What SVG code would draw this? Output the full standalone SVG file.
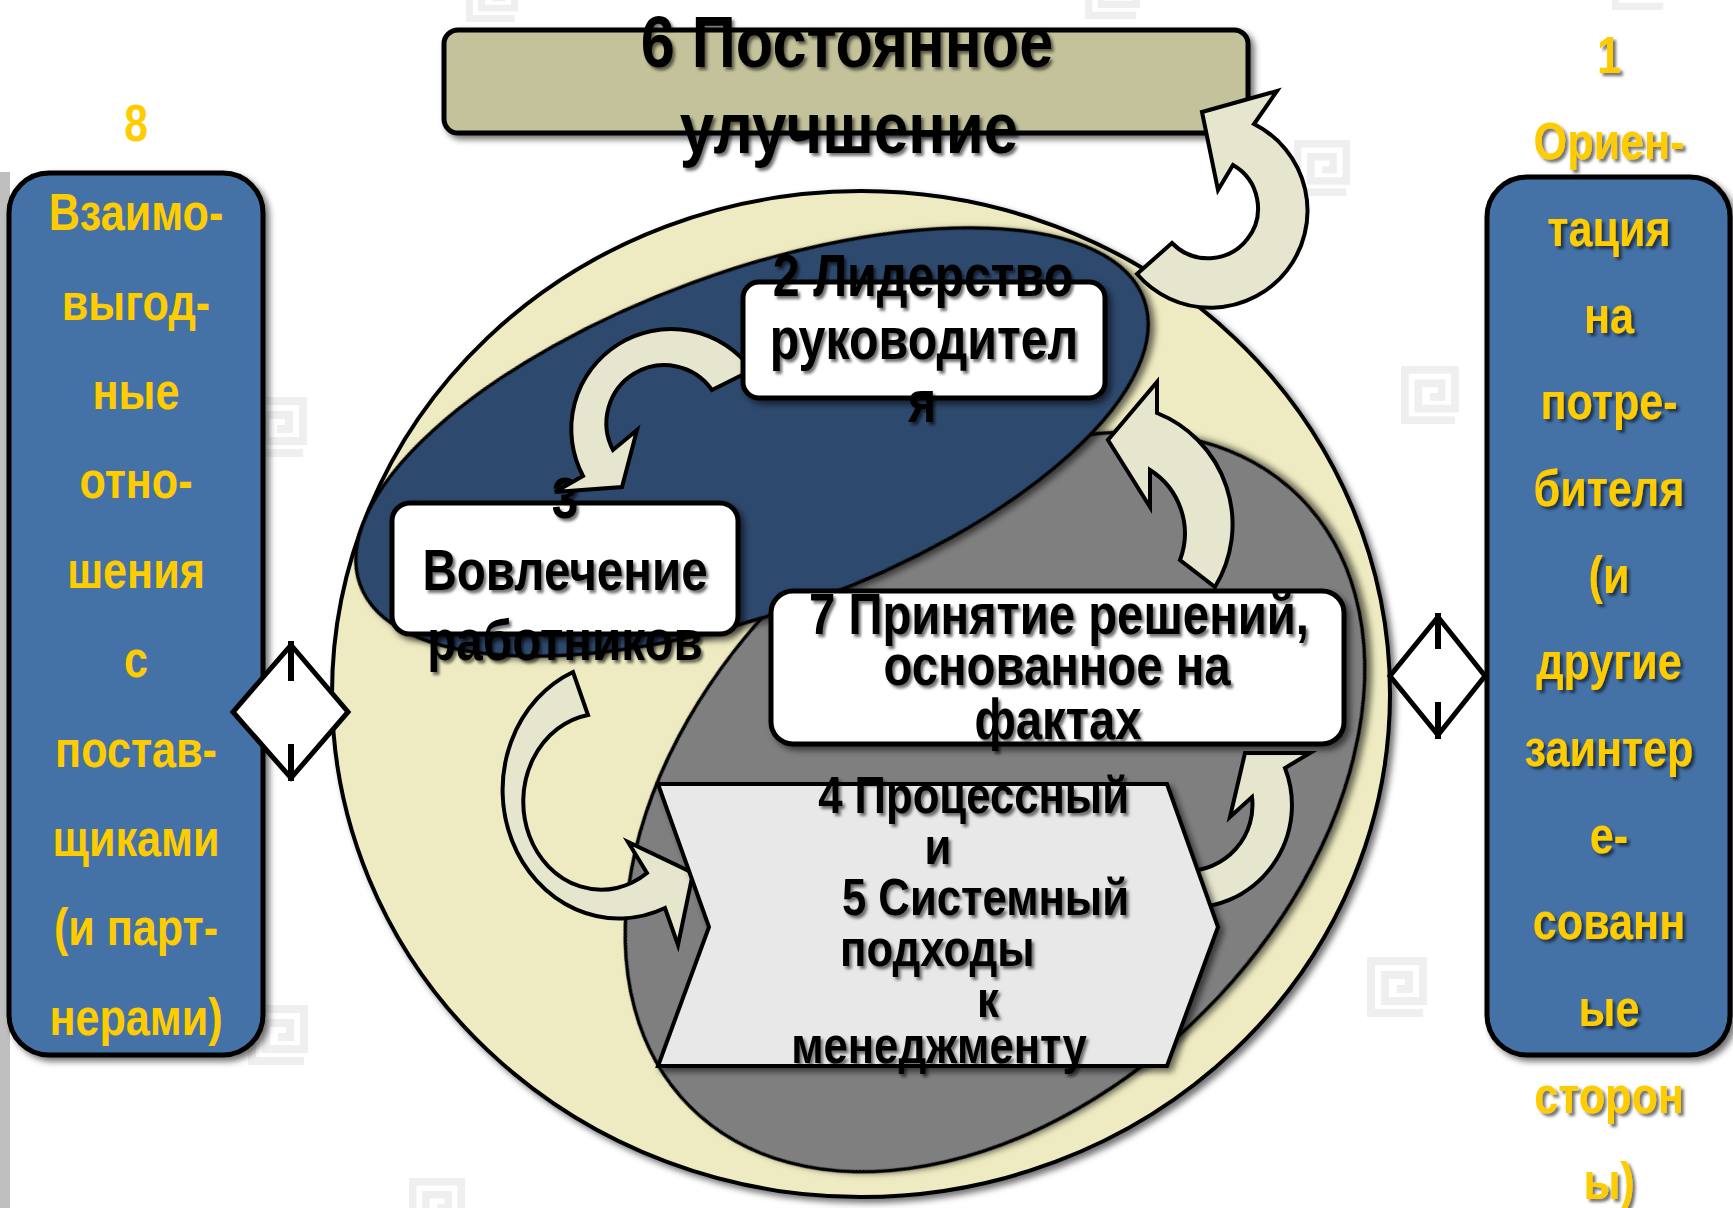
<svg xmlns="http://www.w3.org/2000/svg" width="1733" height="1208" viewBox="0 0 1733 1208">
<defs>
<filter id="sh" x="-10%" y="-10%" width="130%" height="130%"><feDropShadow dx="4" dy="4" stdDeviation="3" flood-color="#000" flood-opacity="0.55"/></filter>
<filter id="ts" x="-10%" y="-30%" width="130%" height="170%"><feDropShadow dx="3" dy="3" stdDeviation="1.6" flood-color="#000" flood-opacity="0.55"/></filter>
<symbol id="gk" viewBox="0 0 60 60"><path d="M56,56 H4 V4 H56 V44 H18 V18 H42 V32 H30" fill="none" stroke="#efefef" stroke-width="8"/></symbol>
</defs>
<style>
.t{font-family:"Liberation Sans",Arial,sans-serif;font-weight:bold;}
.bk{fill:#000;filter:url(#ts)}
.yl{fill:#FFCC00;font-size:52px}
.ysh{filter:url(#ts)}
.m{text-anchor:middle}
.e{text-anchor:end}
.s{text-anchor:start}
.box{stroke:#000;stroke-width:5;filter:url(#sh)}
.arr{fill:#E6E6CE;stroke:#000;stroke-width:4;stroke-linejoin:miter}
</style>
<rect x="0" y="0" width="1733" height="1208" fill="#fff"/>
<g id="background">
<use href="#gk" x="1401" y="366" width="58" height="58"/>
<use href="#gk" x="247" y="397" width="60" height="60"/>
<use href="#gk" x="1367" y="957" width="60" height="60"/>
<use href="#gk" x="248" y="1005" width="60" height="60"/>
<use href="#gk" x="409" y="1178" width="56" height="56"/>
<use href="#gk" x="466" y="-30" width="52" height="52"/>
<use href="#gk" x="1085" y="-36" width="55" height="55"/>
<use href="#gk" x="1612" y="-45" width="55" height="55"/>
<use href="#gk" x="1294" y="140" width="56" height="56"/>
<rect x="0" y="172" width="10" height="1036" fill="#BFBFBF"/>
</g>
<g id="circle">
<ellipse cx="861" cy="694" rx="529" ry="503" fill="#EEEAC1" stroke="#000" stroke-width="4" filter="url(#sh)"/>
<ellipse cx="995" cy="802" rx="431" ry="296" transform="rotate(-45 995 802)" fill="#7F7F7F" stroke="#000" stroke-width="3.5" filter="url(#sh)"/>
<ellipse cx="752" cy="442" rx="417" ry="170" transform="rotate(-20 752 442)" fill="#2D4A6E" stroke="#000" stroke-width="3.5" filter="url(#sh)"/>
</g>
<g id="node6">
<rect class="box" x="444" y="30" width="804" height="103" rx="14" fill="#C4C29A"/>
<text class="t bk m" font-size="72" transform="translate(847 67) scale(0.85 1)">6 Постоянное</text>
<text class="t bk m" font-size="72" transform="translate(849 153) scale(0.86 1)">улучшение</text>
</g>
<g id="node3">
<rect class="box" x="392" y="503" width="346" height="131" rx="18" fill="#fff"/>
<text class="t bk m" font-size="58" transform="translate(565 518) scale(0.82 1)">3</text>
<text class="t bk m" font-size="58" transform="translate(565 590) scale(0.82 1)">Вовлечение</text>
<text class="t bk m" font-size="58" transform="translate(565 660) scale(0.82 1)">работников</text>
</g>
<g id="connectors">
<path class="arr" d="M1137,274 A97,97 0 1 0 1254,124 L1277,91 L1202,112 L1218,190 L1233,165 A50,50 0 1 1 1172,243 Z"/>
<path class="arr" d="M752,370 A100,100 0 0 0 583,476 L555,492 L622,487 L637,430 L613,450 A58,58 0 0 1 712,390 Z"/>
<path class="arr" d="M573,672 A116,128 0 1 0 665,908 L678,945 L693,873 L628,842 L647,873 A78,88 0 1 1 588,715 Z"/>
<path class="arr" d="M1183,908 A103,103 0 0 0 1285,768 L1310,753 L1245,753 L1230,817 L1252,797 A66,66 0 0 1 1186,871 Z"/>
<path class="arr" d="M1215,587 A120,120 0 0 0 1157,413 L1157,382 L1108,440 L1150,507 L1150,470 A75,75 0 0 1 1180,560 Z"/>
</g>
<g id="node2">
<rect class="box" x="743" y="282" width="362" height="116" rx="16" fill="#fff"/>
<text class="t bk m" font-size="59" transform="translate(923 296) scale(0.82 1)">2 Лидерство</text>
<text class="t bk m" font-size="59" transform="translate(924 359) scale(0.82 1)">руководител</text>
<text class="t bk m" font-size="59" transform="translate(922 422) scale(0.82 1)">я</text>
</g>
<g id="node7">
<rect class="box" x="771" y="591" width="573" height="153" rx="22" fill="#fff"/>
<text class="t bk m" font-size="57" transform="translate(1059 634) scale(0.83 1)">7 Принятие решений,</text>
<text class="t bk m" font-size="57" transform="translate(1057 685) scale(0.83 1)">основанное на</text>
<text class="t bk m" font-size="57" transform="translate(1058 739) scale(0.83 1)">фактах</text>
</g>
<g id="node45">
<polygon points="658,784 1167,784 1218,927 1167,1066 658,1066 709,927" fill="#E8E8E8" stroke="#000" stroke-width="4" filter="url(#sh)"/>
<text class="t bk e" font-size="52" transform="translate(1129 813) scale(0.84 1)">4 Процессный</text>
<text class="t bk m" font-size="52" transform="translate(938 864) scale(0.84 1)">и</text>
<text class="t bk e" font-size="52" transform="translate(1129 915) scale(0.84 1)">5 Системный</text>
<text class="t bk s" font-size="52" transform="translate(840 966) scale(0.84 1)">подходы</text>
<text class="t bk m" font-size="52" transform="translate(988 1017) scale(0.84 1)">к</text>
<text class="t bk m" font-size="52" transform="translate(939 1063) scale(0.84 1)">менеджменту</text>
</g>
<g id="node8">
<rect class="box" x="9" y="173" width="254" height="882" rx="40" fill="#4472A6"/>
<text class="t yl m" transform="translate(136 141) scale(0.82 1)">8</text>
<text class="t yl m" transform="translate(136 230) scale(0.83 1)">Взаимо-</text>
<text class="t yl m" transform="translate(136 320) scale(0.83 1)">выгод-</text>
<text class="t yl m" transform="translate(136 409) scale(0.83 1)">ные</text>
<text class="t yl m" transform="translate(136 498) scale(0.83 1)">отно-</text>
<text class="t yl m" transform="translate(136 588) scale(0.83 1)">шения</text>
<text class="t yl m" transform="translate(136 677) scale(0.83 1)">с</text>
<text class="t yl m" transform="translate(136 767) scale(0.83 1)">постав-</text>
<text class="t yl m" transform="translate(136 856) scale(0.83 1)">щиками</text>
<text class="t yl m" transform="translate(136 945) scale(0.83 1)">(и парт-</text>
<text class="t yl m" transform="translate(136 1035) scale(0.83 1)">нерами)</text>
</g>
<g id="node1">
<rect class="box" x="1487" y="177" width="243" height="878" rx="40" fill="#4472A6"/>
<g class="ysh">
<text class="t yl m" transform="translate(1609 73) scale(0.83 1)">1</text>
<text class="t yl m" transform="translate(1609 159) scale(0.83 1)">Ориен-</text>
<text class="t yl m" transform="translate(1609 246) scale(0.83 1)">тация</text>
<text class="t yl m" transform="translate(1609 333) scale(0.83 1)">на</text>
<text class="t yl m" transform="translate(1609 419) scale(0.83 1)">потре-</text>
<text class="t yl m" transform="translate(1609 506) scale(0.83 1)">бителя</text>
<text class="t yl m" transform="translate(1609 593) scale(0.83 1)">(и</text>
<text class="t yl m" transform="translate(1609 679) scale(0.83 1)">другие</text>
<text class="t yl m" transform="translate(1609 766) scale(0.83 1)">заинтер</text>
<text class="t yl m" transform="translate(1609 853) scale(0.83 1)">е-</text>
<text class="t yl m" transform="translate(1609 939) scale(0.83 1)">сованн</text>
<text class="t yl m" transform="translate(1609 1026) scale(0.83 1)">ые</text>
<text class="t yl m" transform="translate(1609 1113) scale(0.83 1)">сторон</text>
<text class="t yl m" transform="translate(1609 1199) scale(0.83 1)">ы)</text>
</g>
</g>
<g id="diamond-left">
<polygon points="291,645 348,712 291,778 233,712" fill="#fff" stroke="#000" stroke-width="5"/>
<path d="M291,641V681M291,744V781" stroke="#000" stroke-width="6"/>
</g>
<g id="diamond-right">
<polygon points="1438,617 1485,676 1438,735 1390,676" fill="#fff" stroke="#000" stroke-width="5"/>
<path d="M1438,613V649M1438,702V739" stroke="#000" stroke-width="6"/>
</g>
</svg>
